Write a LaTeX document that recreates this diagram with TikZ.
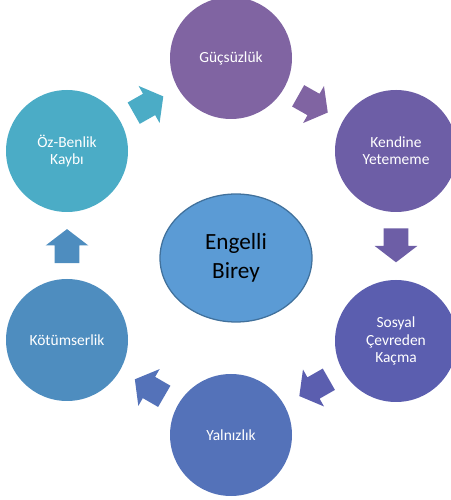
\documentclass[tikz,border=0pt]{standalone}
\usepackage{fontspec}
\setmainfont{Carlito}
\usepackage{tikz}
\usetikzlibrary{shapes,arrows,positioning,calc,arrows.meta}

\definecolor{ozcol}{HTML}{4BACC6}
\definecolor{guccol}{HTML}{8064A2}
\definecolor{kendcol}{HTML}{6D5EA6}
\definecolor{soscol}{HTML}{5B5EAF}
\definecolor{yalcol}{HTML}{5472B9}
\definecolor{kotcol}{HTML}{4E8DBF}
\definecolor{bireyfill}{HTML}{5B9BD5}
\definecolor{bireyline}{HTML}{41719C}

\begin{document}
\begin{tikzpicture}[
    stage/.style={circle, fill=#1, draw=none, minimum size=3.05cm, inner sep=0pt,
        align=center, text=white, font=\fontsize{11}{12.3}\selectfont},
    turn/.style={single arrow, fill=#1, draw=none, inner xsep=0pt, inner ysep=0.3cm,
        minimum height=0.85cm, minimum width=1.05cm,
        single arrow head extend=0.225cm, single arrow tip angle=105,
        sloped, allow upside down, pos=0.42}
]
    \useasboundingbox (0,0) rectangle (11.25,12.5);

    \node [ellipse, fill=bireyfill, draw=bireyline, line width=0.9pt,
        minimum width=3.8cm, minimum height=3.2cm, align=center,
        font=\fontsize{16.5}{21}\selectfont] (birey) at (5.9,6.05) {Engelli\\Birey};

    \node [stage=guccol] (guc) at (5.775,11.05) {Güçsüzlük};
    \node [stage=kendcol] (kend) at (9.9,8.725) {Kendine\\Yetememe};
    \node [stage=soscol] (sos) at (9.9,3.975) {Sosyal\\Çevreden\\Kaçma};
    \node [stage=yalcol] (yal) at (5.775,1.625) {Yalnızlık};
    \node [stage=kotcol] (kot) at (1.675,4.0) {Kötümserlik};
    \node [stage=ozcol] (oz) at (1.675,8.725) {Öz-Benlik\\Kaybı};

    \path (oz) -- node [turn=ozcol] {} (guc);
    \path (guc) -- node [turn=guccol] {} (kend);
    \path (kend) -- node [turn=kendcol] {} (sos);
    \path (sos) -- node [turn=soscol] {} (yal);
    \path (yal) -- node [turn=yalcol] {} (kot);
    \path (kot) -- node [turn=kotcol] {} (oz);
\end{tikzpicture}
\end{document}
